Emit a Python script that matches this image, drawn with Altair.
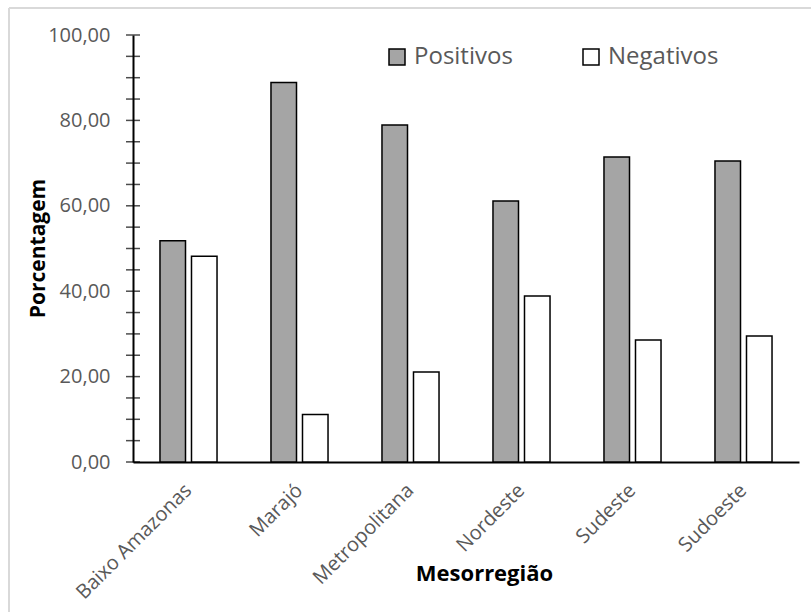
import altair as alt
import pandas as pd

# Mesorregiões and share of positive / negative results (%)
regioes = ["Baixo Amazonas", "Marajó", "Metropolitana", "Nordeste", "Sudeste", "Sudoeste"]
positivos = [51.8, 88.9, 78.9, 61.1, 71.4, 70.5]
negativos = [48.2, 11.1, 21.1, 38.9, 28.6, 29.5]
series = ["Positivos", "Negativos"]
cores = ["#a5a5a5", "#ffffff"]
y_ticks = list(range(0, 101, 5))

FONT = "Open Sans"
GRAY = "#595959"

rows = []
for r, p, n in zip(regioes, positivos, negativos):
    rows.append({"Mesorregião": r, "Série": "Positivos", "Porcentagem": p})
    rows.append({"Mesorregião": r, "Série": "Negativos", "Porcentagem": n})
df = pd.DataFrame(rows)

y_scale = alt.Scale(domain=[0, 100], nice=False)

bars = alt.Chart(df).mark_bar(stroke="black", strokeWidth=1.5).encode(
    x=alt.X(
        "Mesorregião:N",
        sort=regioes,
        scale=alt.Scale(paddingInner=0.486, paddingOuter=0.243),
        axis=alt.Axis(
            title="Mesorregião",
            labelAngle=-45,
            labelAlign="right",
            labelBaseline="middle",
            labelPadding=25,
            labelFont=FONT,
            labelFontSize=20,
            labelColor=GRAY,
            ticks=False,
            domainColor="black",
            domainWidth=2,
            titleFont=FONT,
            titleFontSize=22,
            titleFontWeight="bold",
            titleColor="black",
            titleX=351,
            titleY=111,
            titleAlign="center",
            titleBaseline="middle",
        ),
    ),
    xOffset=alt.XOffset("Série:N", sort=series, scale=alt.Scale(paddingInner=0.19)),
    y=alt.Y(
        "Porcentagem:Q",
        scale=y_scale,
        axis=alt.Axis(
            title="Porcentagem",
            values=[0, 20, 40, 60, 80, 100],
            labelExpr="replace(format(datum.value, '.2f'), '.', ',')",
            ticks=False,
            grid=False,
            labelPadding=23,
            labelFont=FONT,
            labelFontSize=20,
            labelColor=GRAY,
            domainColor="black",
            domainWidth=2,
            titleFont=FONT,
            titleFontSize=21,
            titleFontWeight="bold",
            titleColor="black",
            titleAngle=-90,
            titleX=-95,
            titleY=213,
            titleAlign="center",
            titleBaseline="middle",
        ),
    ),
    color=alt.Color(
        "Série:N",
        sort=series,
        scale=alt.Scale(domain=series, range=cores),
        legend=alt.Legend(
            title=None,
            orient="none",
            legendX=252,
            legendY=10,
            direction="horizontal",
            symbolType="square",
            symbolSize=256,
            symbolStrokeColor="black",
            symbolStrokeWidth=1.5,
            labelFont=FONT,
            labelFontSize=24,
            labelColor=GRAY,
            labelOffset=5,
            columnPadding=66,
        ),
    ),
)

# cross-style ticks on the value axis, every 5 units
ticks = alt.Chart(pd.DataFrame({"v": y_ticks})).mark_tick(
    orient="horizontal", size=14, thickness=1.5, color="black"
).encode(
    x=alt.value(0),
    y=alt.Y("v:Q", scale=y_scale),
)

# light chart-area frame (left and top edges)
frame_left = alt.Chart().mark_rule(color="#d9d9d9", strokeWidth=2).encode(
    x=alt.value(-124), y=alt.value(-27), y2=alt.value(577)
)
frame_top = alt.Chart().mark_rule(color="#d9d9d9", strokeWidth=2).encode(
    x=alt.value(-124), x2=alt.value(678), y=alt.value(-27)
)

chart = alt.layer(frame_left, frame_top, bars, ticks).properties(
    width=666,
    height=427,
    autosize=alt.AutoSizeParams(type="none"),
    padding={"left": 133, "top": 35, "right": 12, "bottom": 150},
    background="white",
).configure_view(stroke=None)

chart.save("out.html", embed_options={"renderer": "svg", "actions": False})
